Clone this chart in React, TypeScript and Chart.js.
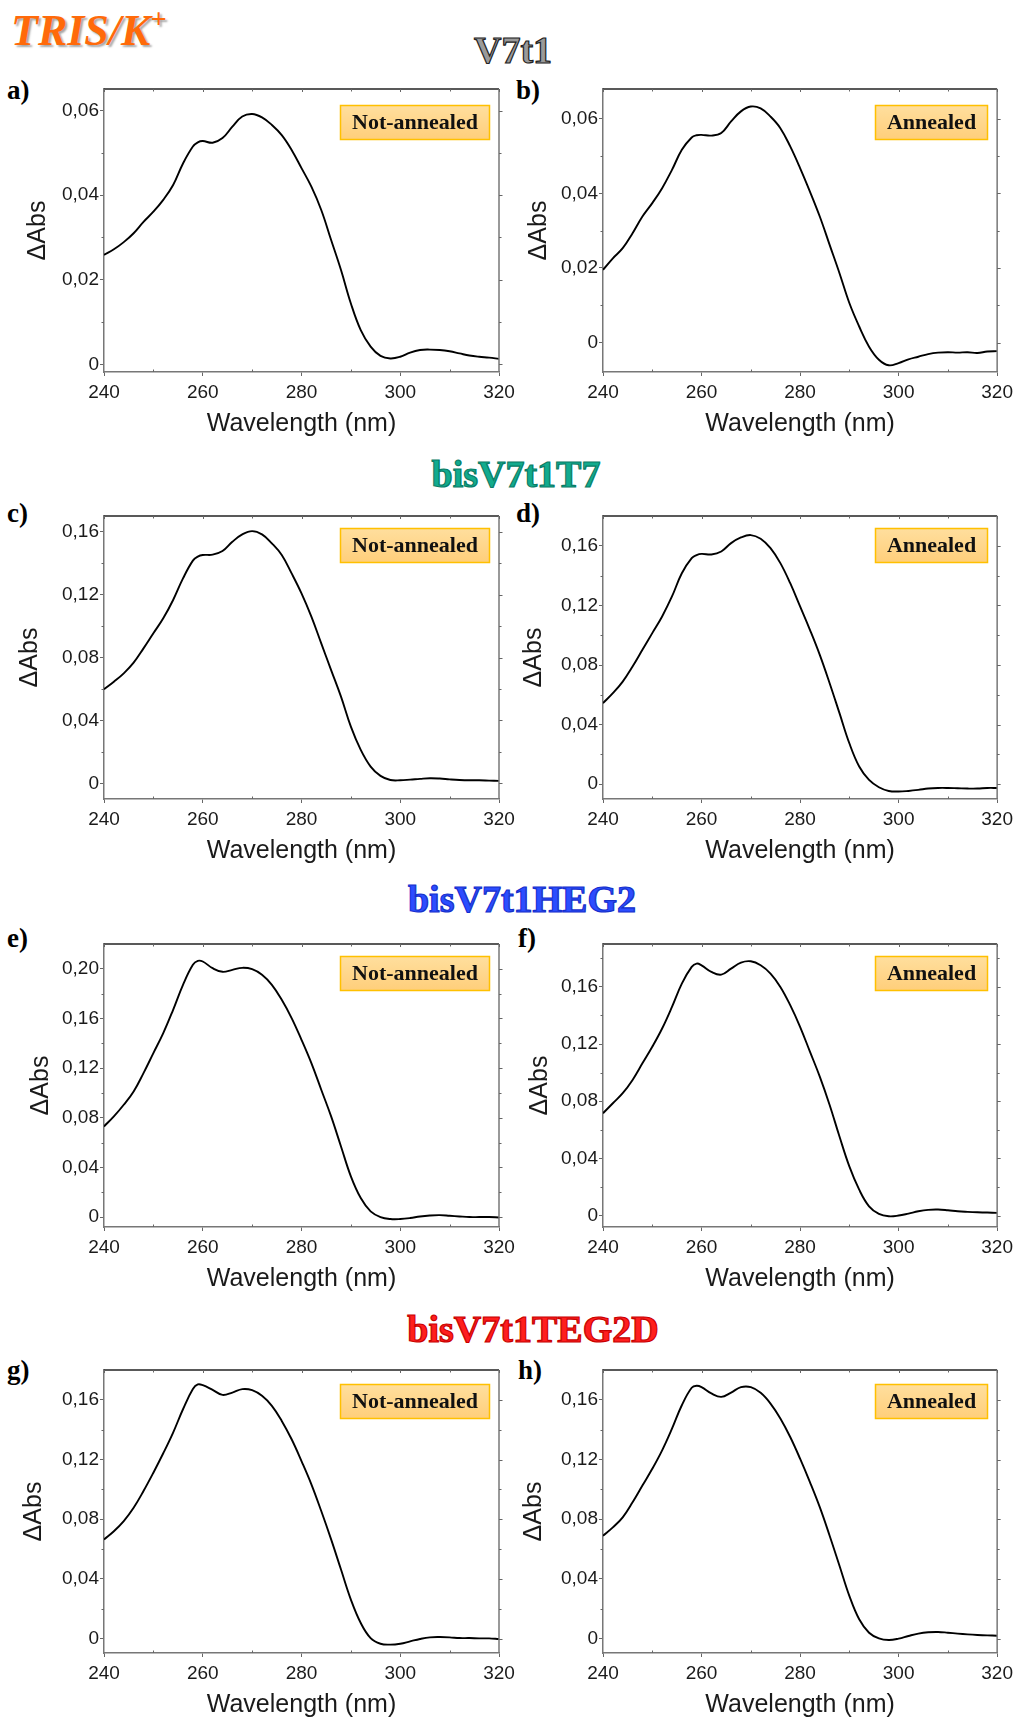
import React, { useEffect, useRef } from "react";
import { Chart, registerables } from "chart.js";

Chart.register(...registerables);

// ---------------- data ----------------
const WAVELENGTH = [
  240, 242, 244, 246, 248, 250, 252, 254, 256, 258, 259, 260, 262, 264, 266, 268, 270, 272, 274, 276, 278,
  280, 282, 284, 286, 288, 290, 292, 294, 296, 298, 300, 302, 304, 306, 308, 310, 312, 314, 316, 318, 320,
];

const V7T1_NOT_ANNEALED = [
  0.0259, 0.0272, 0.0289, 0.031, 0.0337, 0.0361, 0.0389, 0.0424, 0.0475, 0.0515, 0.0525,
  0.0528, 0.0524, 0.0535, 0.0562, 0.0586, 0.0592, 0.0584, 0.0566, 0.0542, 0.0507, 0.0464, 0.042, 0.0365,
  0.0294, 0.0223, 0.0144, 0.0081, 0.0042, 0.002, 0.0014, 0.0018, 0.0028, 0.0034, 0.0035, 0.0034, 0.0031,
  0.0026, 0.0021, 0.0018, 0.0016, 0.0013,
];
const V7T1_ANNEALED = [
  0.0195, 0.0226, 0.0253, 0.0293, 0.0338, 0.0374, 0.0414, 0.0463, 0.0517, 0.055, 0.0556,
  0.0557, 0.0555, 0.0562, 0.0593, 0.062, 0.0633, 0.0628, 0.0606, 0.0575, 0.0526, 0.0468, 0.0405, 0.0338,
  0.0262, 0.0186, 0.0106, 0.0043, -0.0011, -0.0046, -0.0061, -0.0055, -0.0045, -0.0038, -0.0031, -0.0027,
  -0.0026, -0.0027, -0.0026, -0.0028, -0.0024, -0.0023,
];
const T7_NOT_ANNEALED = [
  0.0598, 0.0646, 0.0699, 0.0767, 0.0858, 0.0954, 0.1049, 0.1166, 0.1303, 0.1416, 0.1442,
  0.1452, 0.1454, 0.1477, 0.1536, 0.1583, 0.1604, 0.1583, 0.1526, 0.1452, 0.1335, 0.1208, 0.106, 0.089,
  0.072, 0.0551, 0.036, 0.0212, 0.0106, 0.0047, 0.0021, 0.0019, 0.0023, 0.0028, 0.0032, 0.003, 0.0025,
  0.0021, 0.0019, 0.0019, 0.0017, 0.0015,
];
const T7_ANNEALED = [
  0.0544, 0.0611, 0.0689, 0.079, 0.0902, 0.1014, 0.1126, 0.126, 0.1416, 0.1517, 0.1538,
  0.1546, 0.1542, 0.1562, 0.1618, 0.1656, 0.1672, 0.1647, 0.1584, 0.1484, 0.1349, 0.1193, 0.1036, 0.0868,
  0.0678, 0.0477, 0.0275, 0.0119, 0.0029, -0.002, -0.0045, -0.0049, -0.0045, -0.0038, -0.0029, -0.0025,
  -0.0025, -0.0027, -0.0029, -0.0029, -0.0025, -0.0025,
];
const HEG2_NOT_ANNEALED = [
  0.073, 0.0811, 0.0905, 0.1012, 0.116, 0.1321, 0.1482, 0.167, 0.1871, 0.2032, 0.2064,
  0.2059, 0.2005, 0.1976, 0.1992, 0.2008, 0.1997, 0.1952, 0.1871, 0.175, 0.1603, 0.1428, 0.124, 0.1026,
  0.0811, 0.0569, 0.0328, 0.0153, 0.0046, 0, -0.0016, -0.0016, -0.0008, 0.0005, 0.0013, 0.0016, 0.0011,
  0.0005, 0, 0, 0, -0.0003,
];
const HEG2_ANNEALED = [
  0.0716, 0.0786, 0.0856, 0.0949, 0.1065, 0.1181, 0.1309, 0.146, 0.1623, 0.174, 0.1763,
  0.1751, 0.1705, 0.1686, 0.1728, 0.177, 0.1779, 0.1751, 0.1693, 0.16, 0.1472, 0.1321, 0.1147, 0.0972,
  0.0774, 0.0553, 0.0344, 0.0181, 0.0065, 0.0012, -0.0005, 0, 0.0014, 0.003, 0.004, 0.0042, 0.0037,
  0.003, 0.0026, 0.0023, 0.0021, 0.0019,
];
const TEG2D_NOT_ANNEALED = [
  0.0665, 0.072, 0.0788, 0.0877, 0.0989, 0.1112, 0.1242, 0.1381, 0.1537, 0.1672, 0.1703,
  0.1698, 0.1667, 0.1633, 0.1649, 0.1672, 0.1665, 0.1627, 0.156, 0.1459, 0.1336, 0.119, 0.1034, 0.0855,
  0.0665, 0.0463, 0.0262, 0.0105, 0.0004, -0.0034, -0.004, -0.0034, -0.0018, -0.0002, 0.0009, 0.0011,
  0.0009, 0.0004, 0.0004, 0.0002, 0.0002, -0.0002,
];
const TEG2D_ANNEALED = [
  0.069, 0.0746, 0.0813, 0.0914, 0.1026, 0.1138, 0.1262, 0.1407, 0.1564, 0.1681, 0.1694,
  0.1685, 0.1643, 0.162, 0.1649, 0.1685, 0.1685, 0.1647, 0.1575, 0.1475, 0.1351, 0.1206, 0.1049, 0.0881,
  0.069, 0.0489, 0.0287, 0.013, 0.004, 0.0002, -0.0009, 0, 0.0018, 0.0034, 0.0043, 0.0045, 0.004,
  0.0034, 0.0029, 0.0025, 0.0022, 0.002,
];

const X_TICKS = [240, 260, 280, 300, 320];
const X_MINOR = [250, 270, 290, 310];
const Y_TICKS_SMALL = [0, 0.02, 0.04, 0.06];
const Y_MINOR_SMALL = [0.01, 0.03, 0.05];
const Y_TICKS_MID = [0, 0.04, 0.08, 0.12, 0.16];
const Y_MINOR_MID = [0.02, 0.06, 0.1, 0.14, 0.18];
const Y_TICKS_BIG = [0, 0.04, 0.08, 0.12, 0.16, 0.2];
const Y_MINOR_BIG = [0.02, 0.06, 0.1, 0.14, 0.18];

const NOTE_NOT = "Not-annealed";
const NOTE_ANN = "Annealed";

// ---------------- layout ----------------
const SANS = '"Liberation Sans", Arial, sans-serif';
const SERIF = '"Liberation Serif", "Times New Roman", serif';
const PAD_TOP = 20;
const PLOT_H = 283;
const X_AXIS_H = 72;
const CANVAS_H = PAD_TOP + PLOT_H + X_AXIS_H;

type PanelCfg = {
  label: string;
  values: number[];
  yMin: number;
  yMax: number;
  yTicks: number[];
  yMinor: number[];
  note: string;
  noteTop: number;
  col: 0 | 1;
  plotTop: number;
  yTitlePad: number;
};

const PANELS: PanelCfg[] = [
  { label: "a)", values: V7T1_NOT_ANNEALED, yMin: -0.0018, yMax: 0.0651, yTicks: Y_TICKS_SMALL, yMinor: Y_MINOR_SMALL, note: NOTE_NOT, noteTop: 16, col: 0, plotTop: 89, yTitlePad: 23 },
  { label: "b)", values: V7T1_ANNEALED, yMin: -0.0079, yMax: 0.068, yTicks: Y_TICKS_SMALL, yMinor: Y_MINOR_SMALL, note: NOTE_ANN, noteTop: 16, col: 1, plotTop: 89, yTitlePad: 16 },
  { label: "c)", values: T7_NOT_ANNEALED, yMin: -0.01, yMax: 0.17, yTicks: Y_TICKS_MID, yMinor: Y_MINOR_MID, note: NOTE_NOT, noteTop: 12, col: 0, plotTop: 516, yTitlePad: 15 },
  { label: "d)", values: T7_ANNEALED, yMin: -0.0099, yMax: 0.18, yTicks: Y_TICKS_MID, yMinor: Y_MINOR_MID, note: NOTE_ANN, noteTop: 12, col: 1, plotTop: 516, yTitlePad: 11 },
  { label: "e)", values: HEG2_NOT_ANNEALED, yMin: -0.008, yMax: 0.22, yTicks: Y_TICKS_BIG, yMinor: Y_MINOR_BIG, note: NOTE_NOT, noteTop: 12, col: 0, plotTop: 944, yTitlePad: 26 },
  { label: "f)", values: HEG2_ANNEALED, yMin: -0.008, yMax: 0.19, yTicks: Y_TICKS_MID, yMinor: Y_MINOR_MID, note: NOTE_ANN, noteTop: 12, col: 1, plotTop: 944, yTitlePad: 17 },
  { label: "g)", values: TEG2D_NOT_ANNEALED, yMin: -0.0096, yMax: 0.18, yTicks: Y_TICKS_MID, yMinor: Y_MINOR_MID, note: NOTE_NOT, noteTop: 14, col: 0, plotTop: 1370, yTitlePad: 19 },
  { label: "h)", values: TEG2D_ANNEALED, yMin: -0.0096, yMax: 0.18, yTicks: Y_TICKS_MID, yMinor: Y_MINOR_MID, note: NOTE_ANN, noteTop: 14, col: 1, plotTop: 1370, yTitlePad: 11 },
];

const COLS = [
  { left: 0, width: 520, yAxisW: 104, padRight: 21 },
  { left: 508, width: 510, yAxisW: 95, padRight: 20 },
];

const fmtY = (v: number) => (Math.abs(v) < 1e-9 ? "0" : v.toFixed(2).replace(".", ","));

function Panel({ cfg }: { cfg: PanelCfg }) {
  const ref = useRef<HTMLCanvasElement>(null);
  const col = COLS[cfg.col];
  useEffect(() => {
    const canvas = ref.current;
    if (!canvas) return;
    const framePlugin = {
      id: "frameAndNote",
      afterDatasetsDraw(chart: any) {
        const { ctx, chartArea, scales } = chart;
        const { left, right, top, bottom } = chartArea;
        const x = scales.x;
        const y = scales.y;
        ctx.save();
        // top and right frame
        ctx.lineWidth = 1.5;
        ctx.strokeStyle = "#222";
        ctx.beginPath();
        ctx.moveTo(left, top);
        ctx.lineTo(right, top);
        ctx.stroke();
        ctx.strokeStyle = "#777";
        ctx.beginPath();
        ctx.moveTo(right, top);
        ctx.lineTo(right, bottom);
        ctx.stroke();
        // ticks
        ctx.lineWidth = 1;
        ctx.strokeStyle = "#666";
        ctx.beginPath();
        cfg.yMinor.forEach((v) => {
          if (v >= cfg.yMax - 1e-4 || v <= cfg.yMin) return;
          const py = Math.round(y.getPixelForValue(v)) + 0.5;
          ctx.moveTo(left - 2.5, py);
          ctx.lineTo(left, py);
          ctx.moveTo(right, py);
          ctx.lineTo(right + 2.5, py);
        });
        cfg.yTicks.forEach((v) => {
          const py = Math.round(y.getPixelForValue(v)) + 0.5;
          ctx.moveTo(right, py);
          ctx.lineTo(right + 3.5, py);
        });
        X_MINOR.forEach((v) => {
          const px = Math.round(x.getPixelForValue(v)) + 0.5;
          ctx.moveTo(px, bottom);
          ctx.lineTo(px, bottom - 2.5);
          ctx.moveTo(px, top);
          ctx.lineTo(px, top + 2.5);
        });
        X_TICKS.forEach((v) => {
          const px = Math.round(x.getPixelForValue(v)) + 0.5;
          ctx.moveTo(px, top);
          ctx.lineTo(px, top + 3);
        });
        ctx.stroke();
        // note box
        ctx.font = `bold 22px ${SERIF}`;
        const tw = ctx.measureText(cfg.note).width;
        const w = Math.round(tw + 24);
        const h = 35;
        const bx = Math.round(right - 9 - w);
        const by = Math.round(top + cfg.noteTop);
        const g = ctx.createLinearGradient(0, by, 0, by + h);
        g.addColorStop(0, "#FFDF9E");
        g.addColorStop(1, "#FFCE7A");
        ctx.fillStyle = g;
        ctx.fillRect(bx, by, w, h);
        ctx.strokeStyle = "#FFC000";
        ctx.lineWidth = 1.5;
        ctx.strokeRect(bx + 0.5, by + 0.5, w - 1, h - 1);
        ctx.fillStyle = "#111";
        ctx.textAlign = "center";
        ctx.textBaseline = "middle";
        ctx.fillText(cfg.note, bx + w / 2, by + h / 2 + 1);
        ctx.restore();
      },
    };
    const chart = new Chart(canvas, {
      type: "line",
      data: {
        datasets: [
          {
            data: WAVELENGTH.map((wl, i) => ({ x: wl, y: cfg.values[i] })),
            borderColor: "#000",
            borderWidth: 1.9,
            pointRadius: 0,
            tension: 0.4,
            fill: false,
          },
        ],
      },
      options: {
        responsive: false,
        animation: false,
        devicePixelRatio: 1,
        layout: { padding: { top: PAD_TOP, right: col.padRight, left: 0, bottom: 0 } },
        plugins: { legend: { display: false }, tooltip: { enabled: false } },
        scales: {
          x: {
            type: "linear",
            min: 240,
            max: 320,
            afterBuildTicks: (s: any) => {
              s.ticks = X_TICKS.map((v) => ({ value: v }));
            },
            afterFit: (s: any) => {
              s.height = X_AXIS_H;
            },
            ticks: {
              autoSkip: false,
              maxRotation: 0,
              padding: 5,
              color: "#1a1a1a",
              font: { family: SANS, size: 19 },
              callback: (v: any) => String(v),
            },
            grid: { drawOnChartArea: false, drawTicks: true, tickLength: 4, color: "#666", lineWidth: 1 },
            border: { display: true, color: "#777", width: 1.5 },
            title: {
              display: true,
              text: "Wavelength (nm)",
              color: "#1a1a1a",
              font: { family: SANS, size: 25 },
              padding: { top: 0, bottom: 5 },
            },
          },
          y: {
            type: "linear",
            min: cfg.yMin,
            max: cfg.yMax,
            afterBuildTicks: (s: any) => {
              s.ticks = cfg.yTicks.map((v) => ({ value: v }));
            },
            afterFit: (s: any) => {
              s.width = col.yAxisW;
            },
            ticks: {
              autoSkip: false,
              padding: 1,
              color: "#1a1a1a",
              font: { family: SANS, size: 19 },
              callback: (v: any) => fmtY(Number(v)),
            },
            grid: { drawOnChartArea: false, drawTicks: true, tickLength: 4, color: "#666", lineWidth: 1 },
            border: { display: true, color: "#777", width: 1.5 },
            title: {
              display: true,
              text: "ΔAbs",
              color: "#1a1a1a",
              font: { family: SANS, size: 25 },
              padding: { top: cfg.yTitlePad, bottom: 0 },
            },
          },
        },
      },
      plugins: [framePlugin],
    } as any);
    return () => chart.destroy();
  }, [cfg]);

  return (
    <canvas
      ref={ref}
      width={col.width}
      height={CANVAS_H}
      style={{ position: "absolute", left: col.left, top: cfg.plotTop - PAD_TOP, width: col.width, height: CANVAS_H }}
    />
  );
}

const LABEL_POS: Record<string, { left: number; top: number }> = {
  "a)": { left: 7, top: 77 },
  "b)": { left: 516, top: 77 },
  "c)": { left: 7, top: 500 },
  "d)": { left: 516, top: 500 },
  "e)": { left: 7, top: 925 },
  "f)": { left: 518, top: 925 },
  "g)": { left: 7, top: 1357 },
  "h)": { left: 518, top: 1357 },
};

const GROUP_TITLES = [
  { text: "V7t1", center: 513, top: 31, color: "#9a9a9a", stroke: "#222" },
  { text: "bisV7t1T7", center: 516, top: 455, color: "#12AB8D", stroke: "#0A7C66" },
  { text: "bisV7t1HEG2", center: 522, top: 880, color: "#2C4DFF", stroke: "#1530CC" },
  { text: "bisV7t1TEG2D", center: 533, top: 1310, color: "#FF1E1E", stroke: "#C80000" },
];

export default function App() {
  return (
    <div style={{ position: "absolute", left: 0, top: 0, width: 1018, height: 1720, background: "#fff", overflow: "hidden" }}>
      <div
        style={{
          position: "absolute",
          left: 11,
          top: 9,
          fontFamily: SERIF,
          fontWeight: "bold",
          fontStyle: "italic",
          fontSize: 44,
          lineHeight: 1,
          color: "#FF6A0A",
          textShadow: "2px 2px 2px rgba(0,0,0,0.35)",
          whiteSpace: "nowrap",
        }}
      >
        TRIS/K<span style={{ fontSize: 28, position: "relative", top: -17 }}>+</span>
      </div>
      {GROUP_TITLES.map((t) => (
        <div
          key={t.text}
          style={{
            position: "absolute",
            left: t.center - 200,
            width: 400,
            top: t.top,
            textAlign: "center",
            fontFamily: SERIF,
            fontWeight: "bold",
            fontSize: 38,
            lineHeight: 1,
            color: t.color,
            WebkitTextStroke: `1.2px ${t.stroke}`,
            whiteSpace: "nowrap",
          }}
        >
          {t.text}
        </div>
      ))}
      {PANELS.map((p) => (
        <div
          key={p.label + "lbl"}
          style={{
            position: "absolute",
            left: LABEL_POS[p.label].left,
            top: LABEL_POS[p.label].top,
            fontFamily: SERIF,
            fontWeight: "bold",
            fontSize: 27,
            lineHeight: 1,
            color: "#000",
          }}
        >
          {p.label}
        </div>
      ))}
      {PANELS.map((p) => (
        <Panel key={p.label} cfg={p} />
      ))}
    </div>
  );
}
